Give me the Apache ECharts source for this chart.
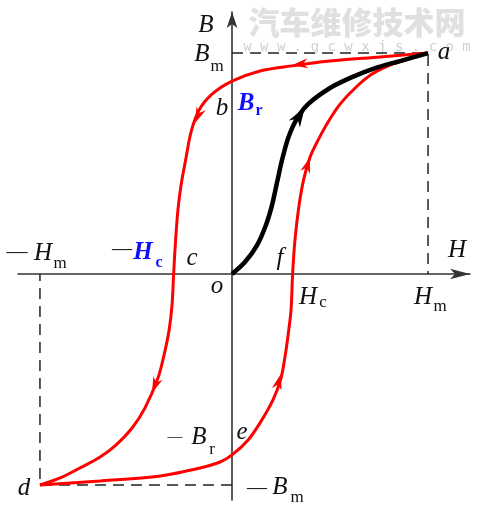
<!DOCTYPE html>
<html><head><meta charset="utf-8">
<script src="https://cdn.jsdelivr.net/npm/echarts@6/dist/echarts.min.js"></script>
<style>html,body{margin:0;padding:0;background:#fff}#c{width:478px;height:511px}</style>
</head><body><div id="c"></div>
<script>
// Values in normalized units (Hm = 1, Bm = 1)
const Hm = 1, Bm = 1, HmNeg = -0.98, BmNeg = -0.955;
const xMin = -1.092, xMax = 1.214, yMin = -1.023, yMax = 1.186;

// Upper (descending) branch a -> b -> c -> d
const descending = [
  [1,1],[0.755,0.982],[0.500,0.964],[0.296,0.941],[0.143,0.919],[0,0.873],[-0.102,0.814],
  [-0.168,0.742],[-0.209,0.643],[-0.235,0.525],[-0.260,0.403],[-0.276,0.290],[-0.288,0.154],
  [-0.298,0],[-0.306,-0.140],[-0.321,-0.253],[-0.347,-0.367],[-0.378,-0.471],[-0.444,-0.606],
  [-0.510,-0.697],[-0.597,-0.778],[-0.673,-0.828],[-0.765,-0.873],[-0.867,-0.919],[-0.98,-0.955]
];
// Lower (ascending) branch d -> e -> f -> a
const ascending = [
  [-0.98,-0.955],[-0.673,-0.937],[-0.367,-0.914],[-0.163,-0.878],[-0.061,-0.851],[0,-0.819],
  [0.082,-0.751],[0.143,-0.674],[0.209,-0.570],[0.250,-0.471],[0.270,-0.376],[0.286,-0.276],
  [0.301,-0.163],[0.309,0],[0.321,0.154],[0.342,0.312],[0.367,0.434],[0.398,0.529],
  [0.439,0.606],[0.490,0.688],[0.551,0.769],[0.628,0.842],[0.714,0.905],[0.806,0.946],
  [0.898,0.973],[1,1]
];
// Initial magnetization curve o -> a
const initial = [
  [0,0],[0.066,0.054],[0.128,0.131],[0.173,0.222],[0.204,0.312],[0.230,0.416],[0.255,0.516],
  [0.286,0.615],[0.327,0.697],[0.388,0.769],[0.500,0.842],[0.612,0.891],[0.730,0.932],
  [0.857,0.964],[1,1]
];
// Arrow heads: [tipH, tipB, backH, backB]
const redArrows = [
  [0.306,0.945,0.398,0.955],
  [-0.189,0.683,-0.153,0.760],
  [-0.408,-0.538,-0.378,-0.471],
  [0.250,-0.452,0.224,-0.534],
  [0.398,0.529,0.372,0.457]
];
const blackArrows = [[0.372,0.756,0.327,0.692]];

const dashTop = [[0,Bm],[Hm,Bm],[Hm,0]];
const dashBottom = [[0,BmNeg],[HmNeg,BmNeg],[HmNeg,0]];

const chart = echarts.init(document.getElementById('c'), null, {renderer:'canvas'});

function arrowRender(len, wid, notch, color) {
  return function(params, api) {
    const tip = api.coord([api.value(0), api.value(1)]);
    const back = api.coord([api.value(2), api.value(3)]);
    let dx = tip[0]-back[0], dy = tip[1]-back[1];
    const d = Math.hypot(dx,dy); dx/=d; dy/=d;
    const nx = -dy, ny = dx;
    const bx = tip[0]-dx*len, by = tip[1]-dy*len;
    const pts = [tip, [bx+nx*wid/2, by+ny*wid/2], [tip[0]-dx*(len-notch), tip[1]-dy*(len-notch)], [bx-nx*wid/2, by-ny*wid/2]];
    return {type:'polygon', shape:{points:pts}, style:{fill:color}};
  };
}

const SERIF = '"Liberation Serif","Times New Roman",serif';
function T(text, x, y, size, o) {
  o = o || {};
  return {type:'text', x:x, y:y, z:100,
    style:{text:text, fill:o.color||'#111', font:(o.italic===false?'':'italic ')+(o.bold?'bold ':'')+size+'px '+(o.family||SERIF),
      align:'center', verticalAlign:'middle'}};
}
const BLUE = '#1010ff';
const graphics = [
  {type:'text', x:357, y:22, z:-10, style:{text:'汽车维修技术网', fill:'#e0e0e0', font:'900 31px "Noto Sans CJK SC"', align:'center', verticalAlign:'middle'}},
  {type:'text', x:357, y:47, z:-10, style:{text:'w w w . g c w x j s . c o m', fill:'#d0d0d0', font:'14px "DejaVu Sans Mono"', align:'center', verticalAlign:'middle'}},
  T('B', 206, 25, 25),
  T('B', 202, 54, 25), T('m', 217, 67, 17, {italic:false}),
  T('a', 444, 52, 25),
  T('B', 246, 104, 25, {bold:true, color:BLUE}), T('r', 259, 111, 16, {bold:true, italic:false, color:BLUE}),
  T('b', 222, 108, 25),
  T('—', 17, 252, 21, {italic:false}), T('H', 43, 253, 25), T('m', 60, 264, 17, {italic:false}),
  T('—', 122, 250, 20, {italic:false}), T('H', 143, 253, 25, {bold:true, color:BLUE}), T('c', 159, 263, 16, {bold:true, italic:false, color:BLUE}),
  T('c', 192, 258, 25),
  T('o', 217, 286, 25),
  T('f', 280, 258, 25),
  T('H', 457, 250, 25),
  T('H', 308, 297, 25), T('c', 323, 303, 17, {italic:false}),
  T('H', 423, 297, 25), T('m', 440, 307, 17, {italic:false}),
  T('—', 175, 437, 15, {italic:false}), T('B', 199, 437, 25), T('r', 212, 450, 17, {italic:false}),
  T('e', 242, 432, 25),
  T('d', 24, 488, 25),
  T('—', 257, 489, 20, {italic:false}), T('B', 280, 487, 25), T('m', 297, 498, 17, {italic:false})
];

const option = {
  animation:false,
  grid:{left:18, right:8, top:12, bottom:11},
  xAxis:{type:'value', min:xMin, max:xMax, splitLine:{show:false}, axisTick:{show:false}, axisLabel:{show:false},
    axisLine:{onZero:true, lineStyle:{color:'#333', width:1.6}, symbol:['none','arrow'], symbolSize:[8,20]}},
  yAxis:{type:'value', min:yMin, max:yMax, splitLine:{show:false}, axisTick:{show:false}, axisLabel:{show:false},
    axisLine:{onZero:true, lineStyle:{color:'#333', width:1.6}, symbol:['none','arrow'], symbolSize:[8,16]}},
  graphic: graphics,
  series:[
    {type:'line', data:dashTop, showSymbol:false, lineStyle:{color:'#222', width:1.5, type:[11,7]}, z:1},
    {type:'line', data:dashBottom, showSymbol:false, lineStyle:{color:'#222', width:1.5, type:[11,7]}, z:1},
    {type:'line', data:descending, smooth:0.3, showSymbol:false, lineStyle:{color:'#ff0000', width:3}},
    {type:'line', data:ascending, smooth:0.3, showSymbol:false, lineStyle:{color:'#ff0000', width:3}},
    {type:'line', data:initial, smooth:0.3, showSymbol:false, lineStyle:{color:'#000', width:4.5}},
    {type:'custom', data:redArrows, renderItem:arrowRender(16,10,5,'#ff0000'), z:5},
    {type:'custom', data:blackArrows, renderItem:arrowRender(20,13,6,'#000'), z:5}
  ]
};
chart.setOption(option);
</script></body></html>
